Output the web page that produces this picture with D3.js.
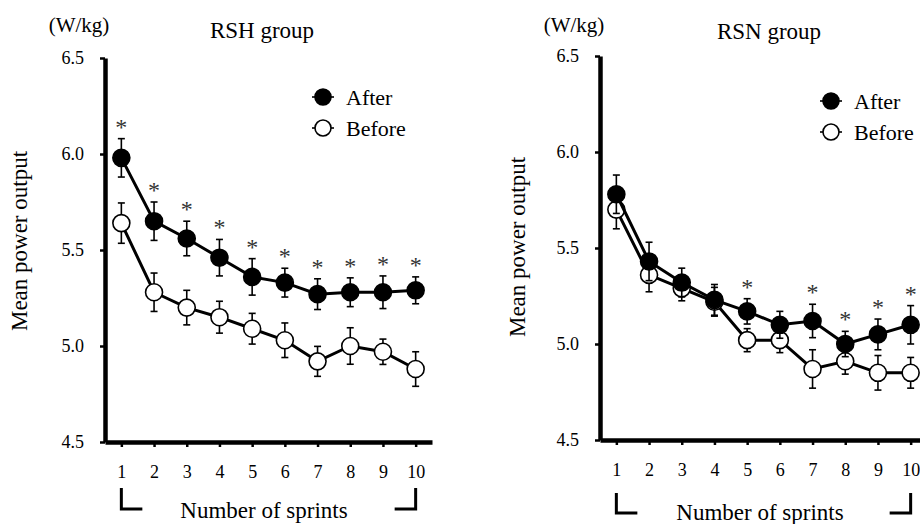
<!DOCTYPE html>
<html>
<head>
<meta charset="utf-8">
<script src="https://cdn.jsdelivr.net/npm/d3@7/dist/d3.min.js"></script>
<style>
  body { margin: 0; background: #fff; }
</style>
</head>
<body>
<div id="chart"></div>
<script>
// Data
const sprints = [1, 2, 3, 4, 5, 6, 7, 8, 9, 10];
const yTicks = [4.5, 5.0, 5.5, 6.0, 6.5];
const legendLabels = ["After", "Before"];
const groupTitles = ["RSH group", "RSN group"];

const rshAfter     = [5.98, 5.65, 5.56, 5.46, 5.36, 5.33, 5.27, 5.28, 5.28, 5.29];
const rshAfterErr  = [0.10, 0.10, 0.09, 0.095, 0.095, 0.075, 0.08, 0.075, 0.085, 0.07];
const rshBefore    = [5.64, 5.28, 5.20, 5.15, 5.09, 5.03, 4.92, 5.00, 4.97, 4.88];
const rshBeforeErr = [0.105, 0.10, 0.09, 0.083, 0.08, 0.09, 0.078, 0.095, 0.066, 0.09];
const rshStars     = [1, 2, 3, 4, 5, 6, 7, 8, 9, 10];

const rsnAfter     = [5.78, 5.43, 5.32, 5.23, 5.17, 5.10, 5.12, 5.00, 5.05, 5.10];
const rsnAfterErr  = [0.10, 0.10, 0.075, 0.08, 0.066, 0.07, 0.087, 0.066, 0.08, 0.10];
const rsnBefore    = [5.70, 5.36, 5.29, 5.22, 5.02, 5.02, 4.87, 4.91, 4.85, 4.85];
const rsnBeforeErr = [0.10, 0.088, 0.065, 0.075, 0.06, 0.065, 0.10, 0.067, 0.09, 0.08];
const rsnStars     = [5, 7, 8, 9, 10];

const width = 920, height = 524;
const serif = '"Liberation Serif"';

// layout of each panel (pixels)
const panels = [
  { title: groupTitles[0], after: rshAfter, afterErr: rshAfterErr, before: rshBefore, beforeErr: rshBeforeErr, stars: rshStars,
    axisX: 105, top: 58, bottom: 442, titleX: 262, titleY: 38, unitX: 79, unitY: 32,
    legX: 323, legY: 97, labelX: 27, labelY: 241, xTitleX: 264, xTitleY: 518, brTop: 488, brBot: 509 },
  { title: groupTitles[1], after: rsnAfter, afterErr: rsnAfterErr, before: rsnBefore, beforeErr: rsnBeforeErr, stars: rsnStars,
    axisX: 600, top: 56, bottom: 440, titleX: 769, titleY: 39, unitX: 574, unitY: 32,
    legX: 831, legY: 101, labelX: 525, labelY: 247, xTitleX: 760, xTitleY: 520, brTop: 493, brBot: 513 }
];

const svg = d3.select("#chart").append("svg")
  .attr("width", width)
  .attr("height", height);

panels.forEach(p => {
  const x = d3.scaleLinear().domain([0.5, 10.5]).range([p.axisX, p.axisX + 327]);
  const y = d3.scaleLinear().domain([4.5, 6.5]).range([p.bottom, p.top]);
  const g = svg.append("g");

  // y axis
  const yAxis = g.append("g")
    .attr("transform", `translate(${p.axisX},0)`)
    .call(d3.axisLeft(y).tickValues(yTicks).tickFormat(d3.format(".1f")).tickSize(5).tickSizeOuter(0).tickPadding(16));
  yAxis.select(".domain").attr("stroke", "#000").attr("stroke-width", 4.5);
  yAxis.selectAll(".tick line").attr("stroke", "#000").attr("stroke-width", 2.5);
  yAxis.selectAll("text").style("font-size", "18px");

  // x axis
  const xAxis = g.append("g")
    .attr("transform", `translate(0,${p.bottom})`)
    .call(d3.axisBottom(x).tickValues(sprints).tickFormat(d3.format("d")).tickSize(5).tickSizeOuter(0).tickPadding(18));
  xAxis.select(".domain").attr("stroke", "#000").attr("stroke-width", 4.5);
  xAxis.selectAll(".tick line").attr("stroke", "#000").attr("stroke-width", 2.5);
  xAxis.selectAll("text").style("font-size", "18px");

  // series: Before first, After on top
  const series = [
    { vals: p.before, err: p.beforeErr, fill: "#fff" },
    { vals: p.after, err: p.afterErr, fill: "#000" }
  ];
  const line = d3.line().x((d, i) => x(sprints[i])).y(d => y(d));

  series.forEach(s => {
    const eb = g.append("g");
    s.vals.forEach((v, i) => {
      const cx = x(sprints[i]);
      eb.append("line").attr("x1", cx).attr("x2", cx)
        .attr("y1", y(v - s.err[i])).attr("y2", y(v + s.err[i]))
        .attr("stroke", "#000").attr("stroke-width", 1.6);
      [v - s.err[i], v + s.err[i]].forEach(e => {
        eb.append("line").attr("x1", cx - 3.5).attr("x2", cx + 3.5)
          .attr("y1", y(e)).attr("y2", y(e))
          .attr("stroke", "#000").attr("stroke-width", 1.6);
      });
    });
    g.append("path").datum(s.vals)
      .attr("d", line)
      .attr("fill", "none")
      .attr("stroke", "#000")
      .attr("stroke-width", 3);
    g.selectAll(null).data(s.vals).enter().append("circle")
      .attr("cx", (d, i) => x(sprints[i]))
      .attr("cy", d => y(d))
      .attr("r", 8.5)
      .attr("fill", s.fill)
      .attr("stroke", "#000")
      .attr("stroke-width", 1.6);
  });

  // significance asterisks, ~15px above the After error bar
  g.selectAll(null).data(p.stars).enter().append("text")
    .attr("x", d => x(d))
    .attr("y", d => y(p.after[d - 1] + p.afterErr[d - 1]) - 15 + 11)
    .attr("text-anchor", "middle")
    .style("font-size", "24px")
    .style("fill", "#333")
    .text("*");

  // titles
  g.append("text").attr("x", p.titleX).attr("y", p.titleY)
    .attr("text-anchor", "middle").style("font-size", "23px").text(p.title);
  g.append("text").attr("x", p.unitX).attr("y", p.unitY)
    .attr("text-anchor", "middle").style("font-size", "21px").text("(W/kg)");
  g.append("text")
    .attr("transform", `translate(${p.labelX},${p.labelY}) rotate(-90)`)
    .attr("text-anchor", "middle").style("font-size", "23px").text("Mean power output");
  g.append("text").attr("x", p.xTitleX).attr("y", p.xTitleY)
    .attr("text-anchor", "middle").style("font-size", "23px").text("Number of sprints");

  // brackets under sprint 1 and sprint 10
  const x1 = x(1), x10 = x(10);
  g.append("path")
    .attr("d", `M${x1},${p.brTop}V${p.brBot}H${x1 + 21}`)
    .attr("fill", "none").attr("stroke", "#000").attr("stroke-width", 3);
  g.append("path")
    .attr("d", `M${x10},${p.brTop}V${p.brBot}H${x10 - 21}`)
    .attr("fill", "none").attr("stroke", "#000").attr("stroke-width", 3);

  // legend
  const fills = ["#000", "#fff"];
  legendLabels.forEach((lab, i) => {
    const ly = p.legY + i * 31;
    g.append("line").attr("x1", p.legX - 11).attr("x2", p.legX + 11)
      .attr("y1", ly).attr("y2", ly).attr("stroke", "#000").attr("stroke-width", 1.6);
    g.append("circle").attr("cx", p.legX).attr("cy", ly).attr("r", 8)
      .attr("fill", fills[i]).attr("stroke", "#000").attr("stroke-width", 1.6);
    g.append("text").attr("x", p.legX + 23).attr("y", ly + 8)
      .style("font-size", "22px").text(lab);
  });
});

// every label in the serif face
svg.selectAll("text").style("font-family", serif).style("fill", function() {
  return this.style.fill || "#000";
});
</script>
</body>
</html>
